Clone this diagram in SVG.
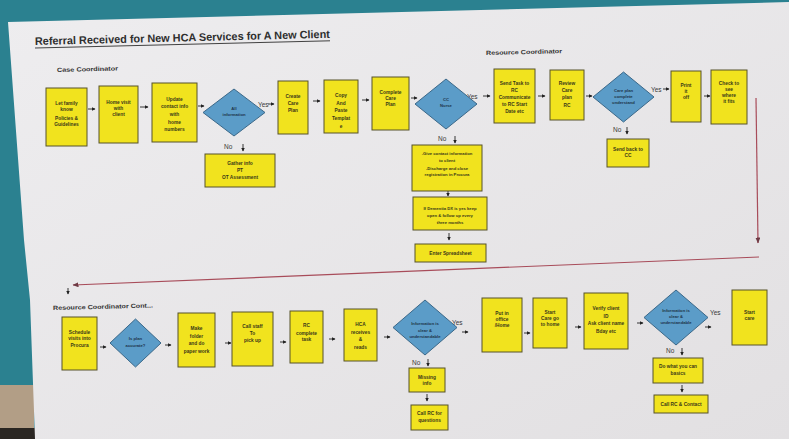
<svg xmlns="http://www.w3.org/2000/svg" width="789" height="439" viewBox="0 0 789 439">
<defs>
<style>
.box{fill:#f1e31e;stroke:#57532a;stroke-width:1}
.dia{fill:#5b9cc8;stroke:#3b6889;stroke-width:1}
.t{font-family:"Liberation Sans",Arial,sans-serif;font-size:4.8px;font-weight:bold;fill:#3a3818;text-anchor:middle}
.td{font-family:"Liberation Sans",Arial,sans-serif;font-size:4.2px;font-weight:bold;fill:#1d3448;text-anchor:middle}
.lbl{font-family:"Liberation Sans",Arial,sans-serif;font-size:6.5px;fill:#3a3a3a}
.hd{font-family:"Liberation Sans",Arial,sans-serif;font-size:6px;font-weight:bold;fill:#333}
.ar{stroke:#222;stroke-width:0.9;fill:none;marker-end:url(#ah)}
.red{stroke:#a84c5a;stroke-width:1.2;fill:none;marker-end:url(#rh)}
</style>
<marker id="ah" markerWidth="4" markerHeight="4" refX="3.5" refY="2" orient="auto" markerUnits="userSpaceOnUse">
<path d="M0,0 L4,2 L0,4 Z" fill="#222"/>
</marker>
<marker id="rh" markerWidth="6" markerHeight="5" refX="5.5" refY="2.5" orient="auto" markerUnits="userSpaceOnUse">
<path d="M0,0 L6,2.5 L0,5 Z" fill="#6e3a44"/>
</marker>
<linearGradient id="paper" x1="0" y1="0" x2="1" y2="1">
<stop offset="0" stop-color="#eeedef"/>
<stop offset="1" stop-color="#e2e0e2"/>
</linearGradient>
</defs>

<!-- background -->
<rect x="0" y="0" width="789" height="439" fill="#2b8190"/>
<rect x="0" y="385" width="34" height="45" fill="#b29e86"/>
<rect x="0" y="428" width="36" height="11" fill="#2a2622"/>
<polygon points="8,22 789,2 789,439 35,439 30,300 24,240" fill="url(#paper)"/>

<!-- headings -->
<g id="title">
<text x="35" y="45" transform="rotate(-1.4 35 45)" font-family="'Liberation Sans',Arial,sans-serif" font-size="11" font-weight="bold" fill="#2e2e2e" textLength="295" lengthAdjust="spacingAndGlyphs">Referral Received for New HCA Services for A New Client</text>
<line x1="35" y1="48" x2="330" y2="40.8" stroke="#2e2e2e" stroke-width="0.9"/>
</g>
<text class="hd" x="57" y="72" transform="rotate(-1.4 57 72)" textLength="61" lengthAdjust="spacingAndGlyphs">Case Coordinator</text>
<text class="hd" x="486" y="55" transform="rotate(-1.4 486 55)" textLength="76" lengthAdjust="spacingAndGlyphs">Resource Coordinator</text>
<text class="hd" x="53" y="310" transform="rotate(-1.4 53 310)" textLength="100" lengthAdjust="spacingAndGlyphs">Resource Coordinator Cont...</text>

<!-- connectors -->
<g id="connectors">
<line class="ar" x1="88" y1="109" x2="95" y2="109"/>
<line class="ar" x1="140" y1="107" x2="148" y2="107"/>
<line class="ar" x1="198" y1="106" x2="204" y2="106"/>
<line class="ar" x1="268" y1="104" x2="274" y2="104"/>
<line class="ar" x1="313" y1="101" x2="320" y2="101"/>
<line class="ar" x1="362" y1="100" x2="369" y2="100"/>
<line class="ar" x1="411" y1="98" x2="417" y2="98"/>
<line class="ar" x1="483" y1="96" x2="490" y2="96"/>
<line class="ar" x1="538" y1="96" x2="545" y2="96"/>
<line class="ar" x1="586" y1="96" x2="592" y2="96"/>
<line class="ar" x1="663" y1="89" x2="669" y2="89"/>
<line class="ar" x1="704" y1="96" x2="710" y2="96"/>
<line class="ar" x1="243" y1="144" x2="243" y2="151"/>
<line class="ar" x1="455" y1="136" x2="455" y2="143"/>
<line class="ar" x1="448" y1="190" x2="448" y2="196"/>
<line class="ar" x1="449" y1="233" x2="449" y2="240"/>
<line class="ar" x1="627" y1="127" x2="627" y2="134"/>
<line class="red" x1="756" y1="98" x2="758" y2="243"/>
<line class="red" x1="759" y1="257" x2="73" y2="285"/>
<line class="ar" x1="68" y1="288" x2="68" y2="294"/>
<line class="ar" x1="100" y1="347" x2="106" y2="347"/>
<line class="ar" x1="165" y1="345" x2="171" y2="345"/>
<line class="ar" x1="225" y1="343" x2="231" y2="343"/>
<line class="ar" x1="280" y1="342" x2="286" y2="342"/>
<line class="ar" x1="329" y1="339" x2="335" y2="339"/>
<line class="ar" x1="384" y1="337" x2="390" y2="337"/>
<line class="ar" x1="462" y1="332" x2="468" y2="332"/>
<line class="ar" x1="524" y1="333" x2="530" y2="333"/>
<line class="ar" x1="575" y1="327" x2="581" y2="327"/>
<line class="ar" x1="637" y1="323" x2="643" y2="323"/>
<line class="ar" x1="705" y1="327" x2="711" y2="327"/>
<line class="ar" x1="428" y1="359" x2="428" y2="366"/>
<line class="ar" x1="427" y1="394" x2="427" y2="401"/>
<line class="ar" x1="682" y1="348" x2="682" y2="355"/>
<line class="ar" x1="682" y1="385" x2="682" y2="392"/>
<text class="lbl" x="258" y="107">Yes</text>
<text class="lbl" x="224" y="149">No</text>
<text class="lbl" x="467" y="99">Yes</text>
<text class="lbl" x="438" y="141">No</text>
<text class="lbl" x="651" y="92">Yes</text>
<text class="lbl" x="613" y="132">No</text>
<text class="lbl" x="452" y="325">Yes</text>
<text class="lbl" x="412" y="365">No</text>
<text class="lbl" x="710" y="315">Yes</text>
<text class="lbl" x="666" y="353">No</text>
</g>

<!-- top row -->
<g id="n-let-family"><rect class="box" x="46" y="88" width="41" height="58"/>
<text class="t" x="66.5" y="105">Let family</text><text class="t" x="66.5" y="111">know</text><text class="t" x="66.5" y="120">Policies &amp;</text><text class="t" x="66.5" y="126">Guidelines</text></g>
<g id="n-home-visit"><rect class="box" x="99" y="86" width="39" height="57"/>
<text class="t" x="118.5" y="104">Home visit</text><text class="t" x="118.5" y="110">with</text><text class="t" x="118.5" y="116">client</text></g>
<g id="n-update"><rect class="box" x="152" y="83" width="45" height="59"/>
<text class="t" x="174.5" y="101">Update</text><text class="t" x="174.5" y="108">contact info</text><text class="t" x="174.5" y="116">with</text><text class="t" x="174.5" y="124">home</text><text class="t" x="174.5" y="131">numbers</text></g>
<g id="d-all-info"><polygon class="dia" points="203,112.5 234,89 265,112.5 234,136"/>
<text class="td" x="234" y="110">All</text><text class="td" x="234" y="116">information</text></g>
<g id="n-gather"><rect class="box" x="205" y="154" width="70" height="33"/>
<text class="t" x="240" y="165">Gather info</text><text class="t" x="240" y="172">PT</text><text class="t" x="240" y="179">OT Assessment</text></g>
<g id="n-create"><rect class="box" x="278" y="81" width="30" height="53"/>
<text class="t" x="293" y="98">Create</text><text class="t" x="293" y="105">Care</text><text class="t" x="293" y="112">Plan</text></g>
<g id="n-copy"><rect class="box" x="324" y="80" width="34" height="53"/>
<text class="t" x="341" y="97">Copy</text><text class="t" x="341" y="105">And</text><text class="t" x="341" y="112">Paste</text><text class="t" x="341" y="120">Templat</text><text class="t" x="341" y="128">e</text></g>
<g id="n-complete"><rect class="box" x="372" y="77" width="37" height="53"/>
<text class="t" x="390.5" y="94">Complete</text><text class="t" x="390.5" y="100">Care</text><text class="t" x="390.5" y="106">Plan</text></g>
<g id="d-cc-nurse"><polygon class="dia" points="415,104 446,79 477,104 446,129"/>
<text class="td" x="446" y="101">CC</text><text class="td" x="446" y="107">Nurse</text></g>
<g id="n-give-contact"><rect class="box" x="412" y="145" width="70" height="46"/>
<text class="td" style="fill:#3a3818" x="447" y="155">-Give contact information</text><text class="td" style="fill:#3a3818" x="447" y="162">to client</text><text class="td" style="fill:#3a3818" x="447" y="170">-Discharge and close</text><text class="td" style="fill:#3a3818" x="447" y="176">registration in Procura</text></g>
<g id="n-dementia"><rect class="box" x="413" y="197" width="74" height="33"/>
<text class="td" style="fill:#3a3818" x="450" y="210">If Dementia DX is yes keep</text><text class="td" style="fill:#3a3818" x="450" y="217">open &amp; follow up every</text><text class="td" style="fill:#3a3818" x="450" y="224">three months</text></g>
<g id="n-enter"><rect class="box" x="415" y="244" width="71" height="18"/>
<text class="t" x="450.5" y="255">Enter Spreadsheet</text></g>
<g id="n-send-task"><rect class="box" x="494" y="69" width="41" height="54"/>
<text class="t" x="514.5" y="85">Send Task to</text><text class="t" x="514.5" y="92">RC</text><text class="t" x="514.5" y="99">Communicate</text><text class="t" x="514.5" y="106">to RC Start</text><text class="t" x="514.5" y="113">Date etc</text></g>
<g id="n-review"><rect class="box" x="550" y="70" width="34" height="50"/>
<text class="t" x="567" y="85">Review</text><text class="t" x="567" y="92">Care</text><text class="t" x="567" y="99">plan</text><text class="t" x="567" y="107">RC</text></g>
<g id="d-care-plan"><polygon class="dia" points="593,97 623.5,72 654,97 623.5,122"/>
<text class="td" x="623.5" y="92">Care plan</text><text class="td" x="623.5" y="98">complete</text><text class="td" x="623.5" y="104">understand</text></g>
<g id="n-send-back"><rect class="box" x="607" y="139" width="42" height="28"/>
<text class="t" x="628" y="151">Send back to</text><text class="t" x="628" y="157">CC</text></g>
<g id="n-print"><rect class="box" x="671" y="71" width="30" height="51"/>
<text class="t" x="686" y="87">Print</text><text class="t" x="686" y="93">it</text><text class="t" x="686" y="99">off</text></g>
<g id="n-check"><rect class="box" x="711" y="70" width="36" height="54"/>
<text class="t" x="729" y="85">Check to</text><text class="t" x="729" y="91">see</text><text class="t" x="729" y="97">where</text><text class="t" x="729" y="103">it fits</text></g>

<!-- bottom row -->
<g id="n-schedule"><rect class="box" x="62" y="317" width="35" height="53"/>
<text class="t" x="79.5" y="334">Schedule</text><text class="t" x="79.5" y="340">visits into</text><text class="t" x="79.5" y="347">Procura</text></g>
<g id="d-plan-accurate"><polygon class="dia" points="110,343 135.5,319 161,343 135.5,367"/>
<text class="td" x="135.5" y="340">Is plan</text><text class="td" x="135.5" y="347">accurate?</text></g>
<g id="n-make-folder"><rect class="box" x="178" y="313" width="37" height="54"/>
<text class="t" x="196.5" y="330">Make</text><text class="t" x="196.5" y="338">folder</text><text class="t" x="196.5" y="345">and do</text><text class="t" x="196.5" y="353">paper work</text></g>
<g id="n-call-staff"><rect class="box" x="232" y="312" width="41" height="54"/>
<text class="t" x="252.5" y="328">Call staff</text><text class="t" x="252.5" y="335">To</text><text class="t" x="252.5" y="342">pick up</text></g>
<g id="n-rc-complete"><rect class="box" x="290" y="311" width="33" height="52"/>
<text class="t" x="306.5" y="327">RC</text><text class="t" x="306.5" y="335">complete</text><text class="t" x="306.5" y="341">task</text></g>
<g id="n-hca"><rect class="box" x="344" y="309" width="33" height="52"/>
<text class="t" x="360.5" y="326">HCA</text><text class="t" x="360.5" y="334">receives</text><text class="t" x="360.5" y="341">&amp;</text><text class="t" x="360.5" y="349">reads</text></g>
<g id="d-info-clear-1"><polygon class="dia" points="393,327.5 425,300 457,327.5 425,355"/>
<text class="td" x="425" y="325">Information is</text><text class="td" x="425" y="332">clear &amp;</text><text class="td" x="425" y="338">understandable</text></g>
<g id="n-missing"><rect class="box" x="409" y="368" width="36" height="24"/>
<text class="t" x="427" y="379">Missing</text><text class="t" x="427" y="385">info</text></g>
<g id="n-call-rc-questions"><rect class="box" x="411" y="405" width="37" height="25"/>
<text class="t" x="429.5" y="415">Call RC for</text><text class="t" x="429.5" y="422">questions</text></g>
<g id="n-put-office"><rect class="box" x="482" y="298" width="40" height="54"/>
<text class="t" x="502" y="315">Put in</text><text class="t" x="502" y="321">office</text><text class="t" x="502" y="327">/Home</text></g>
<g id="n-start-care-go"><rect class="box" x="533" y="298" width="34" height="50"/>
<text class="t" x="550" y="314">Start</text><text class="t" x="550" y="320">Care go</text><text class="t" x="550" y="326">to home</text></g>
<g id="n-verify"><rect class="box" x="584" y="293" width="44" height="56"/>
<text class="t" x="606" y="310">Verify client</text><text class="t" x="606" y="318">ID</text><text class="t" x="606" y="325">Ask client name</text><text class="t" x="606" y="333">Bday etc</text></g>
<g id="d-info-clear-2"><polygon class="dia" points="644,317.5 676,290 708,317.5 676,345"/>
<text class="td" x="676" y="312">Information is</text><text class="td" x="676" y="318">clear &amp;</text><text class="td" x="676" y="324">understandable</text></g>
<g id="n-do-what"><rect class="box" x="653" y="358" width="50" height="25"/>
<text class="t" x="678" y="368">Do what you can</text><text class="t" x="678" y="375">basics</text></g>
<g id="n-call-rc-contact"><rect class="box" x="654" y="395" width="54" height="18"/>
<text class="t" x="681" y="406">Call RC &amp; Contact</text></g>
<g id="n-start-care"><rect class="box" x="732" y="290" width="35" height="55"/>
<text class="t" x="749.5" y="314">Start</text><text class="t" x="749.5" y="320">care</text></g>
</svg>
